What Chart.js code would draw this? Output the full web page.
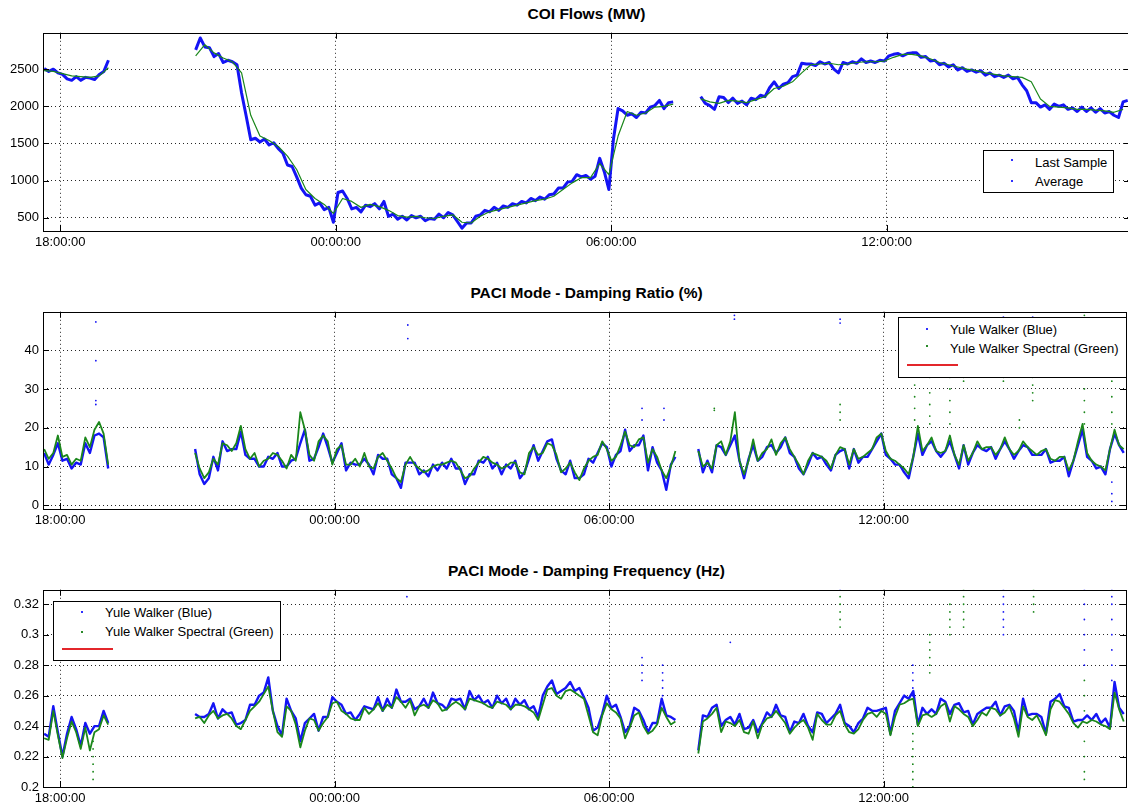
<!DOCTYPE html>
<html><head><meta charset="utf-8">
<script src="https://cdn.jsdelivr.net/npm/chart.js@4.4.0/dist/chart.umd.min.js"></script>
<style>
html,body{margin:0;padding:0;background:#fff;overflow:hidden;width:1128px;height:807px;}
canvas{position:absolute;left:0;}
.title{position:absolute;left:43px;width:1087px;text-align:center;font:bold 15.5px "Liberation Sans",Arial,sans-serif;color:#000;line-height:18px;}
.legend{position:absolute;background:#fff;border:1px solid #000;font:13px "Liberation Sans",Arial,sans-serif;color:#000;box-sizing:border-box;}
.legend .row{position:absolute;white-space:nowrap;line-height:15px;}
.legend .dot{position:absolute;width:2px;height:2px;}
.legend .red{position:absolute;height:2px;background:#e3262b;}
</style></head><body>
<div class="title" style="top:5px">COI Flows (MW)</div>
<div class="title" style="top:284px">PACI Mode - Damping Ratio (%)</div>
<div class="title" style="top:562px">PACI Mode - Damping Frequency (Hz)</div>
<canvas id="c1" width="1130" height="232" style="top:21px"></canvas>
<canvas id="c2" width="1130" height="231" style="top:300px"></canvas>
<canvas id="c3" width="1130" height="231" style="top:578px"></canvas>
<div class="legend" style="left:983px;top:150px;width:131px;height:43px">
  <div class="dot" style="left:27px;top:8px;background:#3030ff"></div>
  <div class="row" style="left:51px;top:3.5px">Last Sample</div>
  <div class="dot" style="left:27px;top:29px;background:#3030ff"></div>
  <div class="row" style="left:51px;top:22.5px">Average</div>
</div>
<div class="legend" style="left:898px;top:317px;width:229px;height:61px">
  <div class="dot" style="left:27px;top:10px;background:#3030ff"></div>
  <div class="row" style="left:51px;top:4px">Yule Walker (Blue)</div>
  <div class="dot" style="left:27px;top:27px;background:#2a8a2a"></div>
  <div class="row" style="left:51px;top:23px">Yule Walker Spectral (Green)</div>
  <div class="red" style="left:8px;top:46px;width:51px"></div>
</div>
<div class="legend" style="left:53px;top:601px;width:228px;height:60px">
  <div class="dot" style="left:27px;top:9px;background:#3030ff"></div>
  <div class="row" style="left:51px;top:3px">Yule Walker (Blue)</div>
  <div class="dot" style="left:27px;top:29px;background:#2a8a2a"></div>
  <div class="row" style="left:51px;top:22px">Yule Walker Spectral (Green)</div>
  <div class="red" style="left:8px;top:46px;width:51px"></div>
</div>
<script>
// ---- time axis (hours after 18:00) ----
const timeTickHours = [0, 6, 12, 18];
const timeTickLabels = ['18:00:00', '00:00:00', '06:00:00', '12:00:00'];
const sampleStep = 0.1;   // hours between samples
const averageStep = 0.2;  // hours between average samples
const segAStart = -0.35, segBStart = 2.95, segCStart = 13.95;

// ---- COI Flows (MW) ----
const coiTicks = [500, 1000, 1500, 2000, 2500];
const coiLastA = [2510,2470,2500,2450,2430,2370,2350,2400,2350,2390,2380,2360,2430,2470,2620];
const coiLastB = [2760,2920,2800,2790,2670,2710,2590,2620,2600,2560,2180,1870,1550,1570,1520,1560,1480,1510,1430,1370,1210,1190,1050,900,810,790,670,700,610,640,440,840,860,760,620,640,580,670,650,690,620,720,520,550,480,520,470,530,500,520,460,490,480,550,500,570,540,450,360,430,430,520,540,600,580,640,600,660,640,690,670,720,700,760,730,780,750,810,820,900,900,980,990,1080,1050,1070,1020,1060,1300,1120,880,1560,1970,1940,1880,1900,1850,1920,1910,1990,2010,2080,1970,2050,2060];
const coiLastC = [2130,2040,2010,1960,2130,2120,2050,2110,2040,2070,2020,2110,2090,2150,2130,2250,2330,2240,2300,2320,2400,2420,2580,2570,2570,2550,2600,2570,2590,2500,2450,2590,2570,2600,2580,2640,2590,2610,2590,2620,2610,2680,2700,2710,2680,2710,2720,2720,2660,2670,2610,2620,2560,2580,2530,2560,2490,2520,2470,2490,2460,2480,2420,2450,2400,2420,2390,2420,2370,2390,2290,2210,2050,2050,1990,2020,1960,2030,2000,2020,1960,1980,1930,1990,1930,1980,1920,1970,1910,1930,1880,1850,2060,2080];
const coiAvgA = [2480,2470,2440,2410,2400,2390,2410,2520];
const coiAvgB = [2680,2830,2720,2650,2600,2450,1880,1600,1540,1460,1330,1150,880,760,680,560,760,720,640,680,650,600,530,510,520,500,490,520,540,440,430,520,580,610,640,670,700,730,750,790,880,970,1040,1040,1230,1080,1600,1930,1880,1910,1990,2000,2030];
const coiAvgC = [2100,2060,2040,2080,2070,2050,2090,2130,2240,2270,2330,2450,2560,2570,2580,2560,2570,2590,2600,2600,2610,2660,2700,2700,2680,2640,2590,2560,2530,2500,2480,2450,2430,2410,2400,2390,2330,2100,2000,1990,1980,1960,1960,1950,1940,1920,1960];

// ---- Damping Ratio (%) ----
const ratioTicks = [0, 10, 20, 30, 40];
const ratioBlueA = [13.5,10.5,13,16,11.5,12,9.5,11,10.5,16,13.5,18,18.5,17.5,9.5];
const ratioBlueB = [14.5,8,5.5,7,12.5,9,16.5,14,14.5,14.5,19,13,12,12,10,10,12.5,12,13.5,10,10,11.5,12,16,19.5,11.5,12,15,18.5,15,11,13.5,16,9,11,10.5,10.5,12,10.5,8,13,12,12,8,7,4.5,11,11,11,8,9,7.5,10.5,9,11,9.5,12,9.5,9.5,5.5,8,8,11.5,11,12.5,9.5,11,8,10.5,9.5,11.5,7,8.5,12,15.5,11.5,14,16.5,17,12,9,8,11.5,7,7,8,12,11,13.5,16,15,10,13,14,19.5,14,15.5,15.5,18,9,15,11,9,4,10.5,12.5];
const ratioBlueC = [14.5,8.5,11.5,8.5,15.5,15,13,15.5,18,11.5,7,12,15.5,11.5,12.5,15,15.5,13.5,15,17.5,13.5,12.5,9.5,8,10.5,13.5,12,12.5,10.5,9,13,14,14.5,9.5,14.5,11,12.5,12.5,14.5,16.5,18.5,13,12,10.5,10.5,8.5,7,12.5,18.5,13,15.5,16.5,14,12.5,14,16.5,13,9.5,15.5,10.5,13.5,15.5,14.5,14,15,12,14.5,16.5,14.5,12,14,15.5,15,13,13,13,14.5,11,11.5,11.5,12.5,7.5,11.5,15.5,19.5,12.5,11.5,9.5,10,8,14.5,18.5,15.5,13.5];
const ratioGreenA = [14.5,12,13.5,18,12.5,13,10.5,12,11.5,17.5,15,19.5,21.5,18.5,10.5];
const ratioGreenB = [13.5,9.5,7,8.5,12,10.5,16,15.5,14,16,20.5,14.5,12,13.5,10,11.5,12,13.5,13,11.5,9.5,13,11.5,24,19.5,13,11.5,16.5,18,16.5,10.5,14.5,15.5,10.5,10.5,12,10,13.5,10,9.5,12.5,13.5,11.5,9.5,7,6,10.5,12.5,10.5,9.5,8.5,9,10,10.5,10.5,11,11.5,11,9,7,7.5,9.5,11,12.5,12,11,10.5,9.5,10,11,11,8.5,8,13.5,15,13,13.5,16,15.5,13,8.5,9.5,11,8.5,6.5,9.5,11.5,12.5,13,16.5,14.5,11.5,12.5,15.5,19,15.5,15,17,17.5,11,14.5,12.5,9,7,10,14];
const ratioGreenC = [14,10,11,9.5,15.5,16.5,13,16.5,24,11.5,8,11.5,17,11.5,13.5,14.5,17,13,16,17.5,14.5,12.5,10.5,8,11.5,13.5,13,12.5,11.5,9.5,13,15,14.5,10.5,14.5,12,12.5,13.5,14.5,17.5,18.5,14,12,11.5,10.5,9.5,8,12.5,20.5,14,15.5,17.5,14,13.5,14,18,13,10.5,15.5,11.5,13.5,16.5,14.5,15,15,13,14.5,17.5,14.5,13,14,16.5,15,14,13,14,14.5,12,11.5,12.5,12.5,9,11.5,16.5,21,13.5,11.5,10.5,10,9,14.5,19.5,15.5,14.5];
const ratioBlueStray = [[0.78,47.3],[0.78,37.3],[0.78,27],[0.78,26],[7.6,46.5],[7.6,43],[12.72,25],[12.72,22],[13.2,25],[13.2,22],[14.74,49],[14.74,48],[17.05,48],[17.05,47],[20.62,48.5],[20.62,48],[21.26,48.5],[22.99,1],[22.99,3],[22.99,6]];
const ratioGreenStray = [[14.3,25],[14.3,24.5],[17.05,26],[17.05,24],[17.05,22],[18.68,34],[18.68,31],[18.68,28],[18.68,25],[18.68,22],[19.01,33],[19.01,29],[19.01,26],[19.01,23],[19.01,21],[19.45,48],[19.45,33],[19.45,30],[19.45,27],[19.45,24],[19.45,21],[19.75,33],[19.75,32],[20.62,33],[20.62,32],[20.97,22],[20.97,20],[21.26,33],[21.26,31],[21.26,29],[21.26,27],[22.39,49],[22.39,46],[22.39,42],[22.39,38],[22.39,34],[22.39,30],[22.39,27],[22.39,24],[22.39,21],[22.99,48],[22.99,44],[22.99,40],[22.99,36],[22.99,32],[22.99,28],[22.99,24],[22.99,21]];

// ---- Damping Frequency (Hz) ----
const freqTicks = [0.2, 0.22, 0.24, 0.26, 0.28, 0.3, 0.32];
const freqTickLabels = ['0.2', '0.22', '0.24', '0.26', '0.28', '0.3', '0.32'];
const freqBlueA = [0.235,0.233,0.253,0.236,0.220,0.235,0.246,0.238,0.227,0.242,0.235,0.240,0.240,0.250,0.242];
const freqBlueB = [0.248,0.246,0.246,0.248,0.255,0.245,0.251,0.248,0.249,0.241,0.242,0.244,0.254,0.254,0.260,0.262,0.272,0.250,0.240,0.234,0.258,0.250,0.245,0.230,0.242,0.245,0.248,0.237,0.246,0.246,0.259,0.256,0.254,0.248,0.249,0.244,0.248,0.253,0.252,0.251,0.259,0.250,0.258,0.252,0.264,0.256,0.256,0.258,0.251,0.253,0.258,0.252,0.262,0.255,0.254,0.251,0.258,0.257,0.258,0.251,0.263,0.257,0.260,0.255,0.257,0.252,0.260,0.255,0.258,0.251,0.258,0.254,0.257,0.251,0.253,0.246,0.260,0.266,0.270,0.261,0.263,0.265,0.269,0.263,0.265,0.259,0.252,0.237,0.239,0.248,0.260,0.252,0.254,0.246,0.236,0.240,0.252,0.250,0.244,0.236,0.242,0.242,0.258,0.247,0.246,0.244];
const freqBlueC = [0.224,0.247,0.246,0.252,0.254,0.240,0.244,0.246,0.241,0.248,0.238,0.239,0.244,0.236,0.242,0.249,0.246,0.254,0.247,0.246,0.236,0.243,0.242,0.248,0.240,0.236,0.249,0.248,0.242,0.245,0.248,0.254,0.242,0.240,0.236,0.242,0.245,0.252,0.250,0.250,0.251,0.252,0.235,0.250,0.255,0.260,0.258,0.263,0.241,0.252,0.248,0.251,0.248,0.258,0.256,0.248,0.254,0.255,0.249,0.250,0.241,0.248,0.250,0.252,0.252,0.256,0.247,0.253,0.254,0.250,0.236,0.258,0.247,0.248,0.248,0.246,0.235,0.256,0.258,0.261,0.253,0.252,0.243,0.244,0.244,0.247,0.244,0.248,0.242,0.245,0.239,0.269,0.252,0.248];
const freqGreenA = [0.232,0.231,0.250,0.234,0.219,0.232,0.243,0.236,0.225,0.239,0.224,0.236,0.238,0.247,0.241];
const freqGreenB = [0.245,0.246,0.242,0.247,0.250,0.245,0.247,0.248,0.245,0.240,0.238,0.244,0.250,0.253,0.256,0.261,0.266,0.250,0.236,0.233,0.253,0.250,0.241,0.226,0.237,0.245,0.244,0.237,0.242,0.246,0.255,0.256,0.250,0.248,0.245,0.244,0.244,0.252,0.248,0.251,0.255,0.250,0.254,0.252,0.259,0.256,0.252,0.257,0.247,0.253,0.254,0.252,0.257,0.255,0.250,0.251,0.254,0.256,0.254,0.251,0.258,0.257,0.256,0.255,0.253,0.252,0.256,0.255,0.254,0.251,0.254,0.254,0.253,0.251,0.249,0.244,0.254,0.264,0.265,0.260,0.258,0.263,0.264,0.262,0.260,0.258,0.247,0.236,0.234,0.247,0.255,0.251,0.249,0.245,0.232,0.239,0.247,0.249,0.240,0.235,0.237,0.241,0.252,0.246,0.241,0.243];
const freqGreenC = [0.222,0.243,0.245,0.248,0.252,0.236,0.243,0.242,0.240,0.244,0.236,0.235,0.243,0.232,0.241,0.245,0.246,0.250,0.246,0.242,0.235,0.239,0.242,0.244,0.239,0.231,0.248,0.244,0.241,0.241,0.247,0.250,0.241,0.236,0.235,0.238,0.244,0.248,0.249,0.246,0.250,0.248,0.234,0.246,0.254,0.255,0.257,0.258,0.240,0.247,0.248,0.246,0.248,0.253,0.255,0.243,0.253,0.251,0.248,0.246,0.240,0.244,0.249,0.247,0.252,0.251,0.247,0.249,0.253,0.245,0.233,0.253,0.246,0.244,0.247,0.241,0.234,0.251,0.257,0.256,0.252,0.248,0.242,0.239,0.243,0.242,0.244,0.243,0.241,0.240,0.238,0.262,0.251,0.243];
const freqBlueStray = [[7.58,0.325],[12.72,0.285],[12.72,0.28],[12.72,0.275],[12.72,0.27],[13.17,0.28],[13.17,0.275],[13.17,0.27],[13.17,0.265],[13.17,0.26],[14.65,0.295],[17.05,0.33],[18.64,0.28],[18.64,0.275],[18.64,0.27],[18.64,0.265],[18.64,0.26],[20.62,0.33],[20.62,0.325],[20.62,0.32],[20.62,0.315],[20.62,0.31],[20.62,0.305],[20.62,0.3],[22.39,0.33],[22.39,0.32],[22.39,0.31],[22.39,0.3],[22.39,0.29],[22.39,0.28],[22.99,0.33],[22.99,0.325],[22.99,0.32],[22.99,0.31],[22.99,0.3],[22.99,0.29],[22.99,0.28],[22.99,0.27]];
const freqGreenStray = [[0.72,0.23],[0.72,0.225],[0.72,0.22],[0.72,0.215],[0.72,0.21],[0.72,0.205],[17.05,0.325],[17.05,0.32],[17.05,0.315],[17.05,0.31],[17.05,0.305],[18.64,0.235],[18.64,0.23],[18.64,0.225],[18.64,0.22],[18.64,0.215],[18.64,0.21],[18.64,0.205],[18.64,0.2],[19.01,0.3],[19.01,0.295],[19.01,0.29],[19.01,0.285],[19.01,0.28],[19.01,0.275],[19.45,0.32],[19.45,0.315],[19.45,0.31],[19.45,0.305],[19.45,0.3],[19.75,0.33],[19.75,0.325],[19.75,0.32],[19.75,0.315],[19.75,0.31],[19.75,0.305],[21.28,0.33],[21.28,0.325],[21.28,0.32],[21.28,0.315],[22.39,0.27],[22.39,0.26],[22.39,0.25],[22.39,0.23],[22.39,0.22],[22.39,0.21],[22.39,0.205]];

// ---- helpers ----
const BLUE = '#1414f5', GREEN = '#1b871b';
function joinSegs(step, segs) {
  const out = [];
  segs.forEach(([start, vals], si) => {
    if (si > 0) out.push({x: start - step / 2, y: null});
    vals.forEach((v, i) => out.push({x: start + i * step, y: v}));
  });
  return out;
}
function pairs(arr) { return arr.map(([x, y]) => ({x, y})); }
function lineDs(data, color, width, order) {
  return {data, borderColor: color, backgroundColor: color, borderWidth: width, pointRadius: 0, spanGaps: false, order, borderJoinStyle: 'round'};
}
function strayDs(data, color) {
  return {data, showLine: false, pointRadius: 0.9, pointBorderWidth: 0, pointBackgroundColor: color, borderColor: color, order: 3};
}
const FONT = {family: '"Liberation Sans", Arial, sans-serif', size: 13};
const framePlugin = {
  id: 'frame',
  afterDraw(chart) {
    const {ctx, chartArea: a, scales: {x, y}} = chart;
    ctx.save();
    ctx.strokeStyle = '#000';
    ctx.lineWidth = 1;
    ctx.strokeRect(Math.round(a.left) + 0.5, Math.round(a.top) + 0.5, Math.round(a.right - a.left), Math.round(a.bottom - a.top));
    ctx.beginPath();
    y.ticks.forEach(t => {
      const py = Math.round(y.getPixelForValue(t.value)) + 0.5;
      ctx.moveTo(a.left, py); ctx.lineTo(a.left + 6, py);
      ctx.moveTo(a.right, py); ctx.lineTo(a.right - 6, py);
    });
    x.ticks.forEach(t => {
      const px = Math.round(x.getPixelForValue(t.value)) + 0.5;
      ctx.moveTo(px, a.bottom); ctx.lineTo(px, a.bottom - 6);
      ctx.moveTo(px, a.top); ctx.lineTo(px, a.top + 6);
    });
    ctx.stroke();
    ctx.restore();
  }
};
function build(id, datasets, yMin, yMax, yTicks, yLabels) {
  const grid = {color: 'rgba(0,0,0,0.85)', lineWidth: 1, drawTicks: false};
  return new Chart(document.getElementById(id), {
    type: 'line',
    data: {datasets},
    options: {
      responsive: false, animation: false, devicePixelRatio: 1,
      layout: {padding: {top: 10, right: 0, left: 0, bottom: 0}},
      plugins: {legend: {display: false}, tooltip: {enabled: false}},
      elements: {line: {tension: 0}},
      scales: {
        x: {
          type: 'linear', min: -0.375, max: 23.3,
          afterFit: s => { s.height = 22; },
          afterBuildTicks: s => { s.ticks = timeTickHours.map(v => ({value: v})); },
          ticks: {autoSkip: false, maxRotation: 0, padding: 4, font: FONT, color: '#000',
                  callback: v => timeTickLabels[timeTickHours.indexOf(v)]},
          grid, border: {display: false, dash: [1, 3]}
        },
        y: {
          type: 'linear', min: yMin, max: yMax,
          afterFit: s => { s.width = 43; },
          afterBuildTicks: s => { s.ticks = yTicks.map(v => ({value: v})); },
          ticks: {padding: 4, font: FONT, color: '#000',
                  callback: v => yLabels[yTicks.indexOf(v)]},
          grid, border: {display: false, dash: [1, 3]}
        }
      }
    },
    plugins: [framePlugin]
  });
}

build('c1', [
  lineDs(joinSegs(averageStep, [[segAStart, coiAvgA], [segBStart, coiAvgB], [segCStart, coiAvgC]]), GREEN, 1.2, 0),
  lineDs(joinSegs(sampleStep, [[segAStart, coiLastA], [segBStart, coiLastB], [segCStart, coiLastC]]), BLUE, 3, 1)
], 322, 2990, coiTicks, coiTicks.map(String));

build('c2', [
  lineDs(joinSegs(sampleStep, [[segAStart, ratioGreenA], [segBStart, ratioGreenB], [segCStart, ratioGreenC]]), GREEN, 1.8, 0),
  lineDs(joinSegs(sampleStep, [[segAStart, ratioBlueA], [segBStart, ratioBlueB], [segCStart, ratioBlueC]]), BLUE, 2.4, 1),
  strayDs(pairs(ratioBlueStray), BLUE),
  strayDs(pairs(ratioGreenStray), GREEN)
], -0.95, 49.9, ratioTicks, ratioTicks.map(String));

build('c3', [
  lineDs(joinSegs(sampleStep, [[segAStart, freqGreenA], [segBStart, freqGreenB], [segCStart, freqGreenC]]), GREEN, 1.8, 0),
  lineDs(joinSegs(sampleStep, [[segAStart, freqBlueA], [segBStart, freqBlueB], [segCStart, freqBlueC]]), BLUE, 2.4, 1),
  strayDs(pairs(freqBlueStray), BLUE),
  strayDs(pairs(freqGreenStray), GREEN)
], 0.2, 0.3295, freqTicks, freqTickLabels);
</script>
</body></html>
